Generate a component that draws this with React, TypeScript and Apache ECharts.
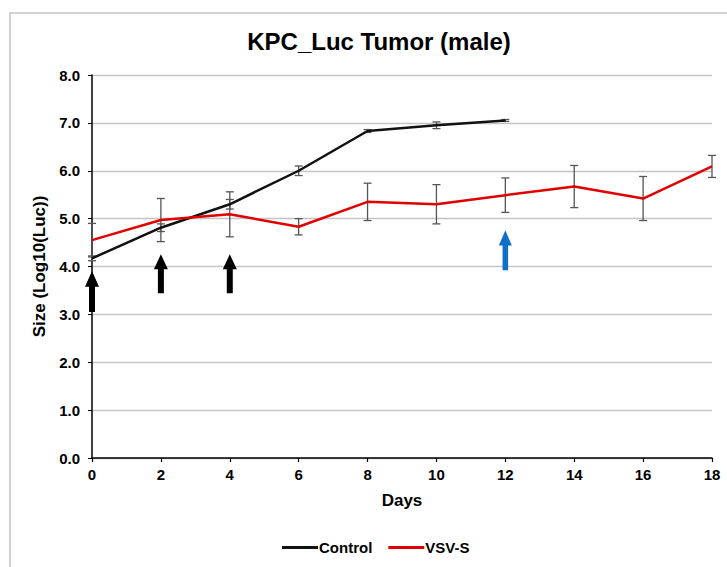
import React, { useEffect, useRef } from "react";
import * as echarts from "echarts";

const controlDays = [0, 2, 4, 6, 8, 10, 12];
const controlValues = [4.17, 4.81, 5.3, 6.0, 6.83, 6.95, 7.05];
const controlErrors = [0.05, 0.08, 0.1, 0.1, 0.03, 0.07, 0.02];

const vsvDays = [0, 2, 4, 6, 8, 10, 12, 14, 16, 18];
const vsvValues = [4.55, 4.97, 5.09, 4.83, 5.35, 5.3, 5.49, 5.67, 5.42, 6.09];
const vsvErrors = [0.35, 0.45, 0.47, 0.17, 0.39, 0.41, 0.36, 0.44, 0.46, 0.23];

const blackArrowDays = [0, 2, 4];
const blackArrowY = [3.48, 3.85, 3.85];
const blueArrowDays = [12];
const blueArrowY = [4.34];

const yTicks = ["0.0", "1.0", "2.0", "3.0", "4.0", "5.0", "6.0", "7.0", "8.0"];

const FONT = "'Liberation Sans', Arial, sans-serif";
const ARROW = "path://M7,0 L14,15 L10,15 L10,39 L4,39 L4,15 L0,15 Z";

function errData(days: number[], vals: number[], errs: number[]) {
  return days.map((d, i) => [d, vals[i] - errs[i], vals[i] + errs[i]]);
}

function errorRender(params: any, api: any) {
  const x = api.value(0);
  const lo = api.coord([x, api.value(1)]);
  const hi = api.coord([x, api.value(2)]);
  const w = 4;
  const style = { stroke: "#555", lineWidth: 1.3 };
  return {
    type: "group",
    children: [
      { type: "line", shape: { x1: lo[0], y1: lo[1], x2: hi[0], y2: hi[1] }, style },
      { type: "line", shape: { x1: lo[0] - w, y1: lo[1], x2: lo[0] + w, y2: lo[1] }, style },
      { type: "line", shape: { x1: hi[0] - w, y1: hi[1], x2: hi[0] + w, y2: hi[1] }, style },
    ],
  };
}

export default function App() {
  const ref = useRef<HTMLDivElement>(null);
  useEffect(() => {
    if (!ref.current) return;
    const chart = echarts.init(ref.current, null, { renderer: "svg" });
    chart.setOption({
      animation: false,
      backgroundColor: "#fff",
      graphic: [
        {
          type: "rect",
          shape: { x: 10, y: 13, width: 760, height: 600 },
          style: { fill: "none", stroke: "#c4c4c4", lineWidth: 1.5 },
          z: -10,
        },
      ],
      title: {
        text: "KPC_Luc Tumor (male)",
        left: 374,
        top: 24,
        textAlign: "center",
        textStyle: { fontFamily: FONT, fontWeight: "bold", fontSize: 24, color: "#000" },
      },
      legend: {
        data: ["Control", "VSV-S"],
        left: 277,
        top: 535,
        icon: "rect",
        itemWidth: 36,
        itemHeight: 3,
        itemGap: 16,
        textStyle: { fontFamily: FONT, fontWeight: "bold", fontSize: 15, color: "#000", padding: [0, 0, 0, -4] },
      },
      grid: { left: 92, right: 15, top: 75, bottom: 109 },
      xAxis: {
        type: "value",
        min: 0,
        max: 18,
        interval: 2,
        name: "Days",
        nameLocation: "middle",
        nameGap: 34,
        nameTextStyle: { fontFamily: FONT, fontWeight: "bold", fontSize: 17, color: "#000" },
        axisLine: { lineStyle: { color: "#000", width: 1.5 } },
        axisTick: { show: true, inside: false, length: 4, lineStyle: { color: "#000", width: 1.2 } },
        axisLabel: { fontFamily: FONT, fontWeight: "bold", fontSize: 15, color: "#000", margin: 9 },
        splitLine: { show: false },
      },
      yAxis: {
        type: "value",
        min: 0,
        max: 8,
        interval: 1,
        name: "Size (Log10(Luc))",
        nameLocation: "middle",
        nameGap: 43,
        nameRotate: 90,
        nameTextStyle: { fontFamily: FONT, fontWeight: "bold", fontSize: 17, color: "#000" },
        axisLine: { show: true, lineStyle: { color: "#000", width: 1.5 } },
        axisTick: { show: true, length: 4, lineStyle: { color: "#000" } },
        axisLabel: {
          fontFamily: FONT,
          fontWeight: "bold",
          fontSize: 15,
          color: "#000",
          margin: 12,
          formatter: (v: number) => yTicks[Math.round(v)] ?? v.toFixed(1),
        },
        splitLine: { show: true, lineStyle: { color: "#c4c4c4", width: 1.3 } },
      },
      series: [
        {
          name: "Control",
          type: "line",
          data: controlDays.map((d, i) => [d, controlValues[i]]),
          showSymbol: false,
          symbol: "none",
          lineStyle: { color: "#111", width: 2.5 },
          itemStyle: { color: "#111" },
          z: 3,
        },
        {
          name: "VSV-S",
          type: "line",
          data: vsvDays.map((d, i) => [d, vsvValues[i]]),
          showSymbol: false,
          symbol: "none",
          lineStyle: { color: "#e00000", width: 2.5 },
          itemStyle: { color: "#e00000" },
          z: 3,
        },
        {
          name: "ctrlErr",
          type: "custom",
          renderItem: errorRender,
          data: errData(controlDays, controlValues, controlErrors),
          encode: { x: 0, y: [1, 2] },
          z: 2,
        },
        {
          name: "vsvErr",
          type: "custom",
          renderItem: errorRender,
          data: errData(vsvDays, vsvValues, vsvErrors),
          encode: { x: 0, y: [1, 2] },
          z: 2,
        },
        {
          name: "blackArrows",
          type: "scatter",
          symbol: ARROW,
          symbolSize: (v: number[], p: any) => (p.dataIndex === 0 ? [14, 41] : [14, 39]),
          itemStyle: { color: "#000", opacity: 1 },
          data: blackArrowDays.map((d, i) => [d, blackArrowY[i]]),
          silent: true,
          z: 5,
        },
        {
          name: "blueArrows",
          type: "scatter",
          symbol: ARROW,
          symbolSize: [13, 40],
          itemStyle: { color: "#1070c8", opacity: 1 },
          data: blueArrowDays.map((d, i) => [d, blueArrowY[i]]),
          silent: true,
          z: 5,
        },
      ],
    });
    return () => chart.dispose();
  }, []);
  return <div ref={ref} style={{ width: 727, height: 567, position: "absolute", left: 0, top: 0 }} />;
}
